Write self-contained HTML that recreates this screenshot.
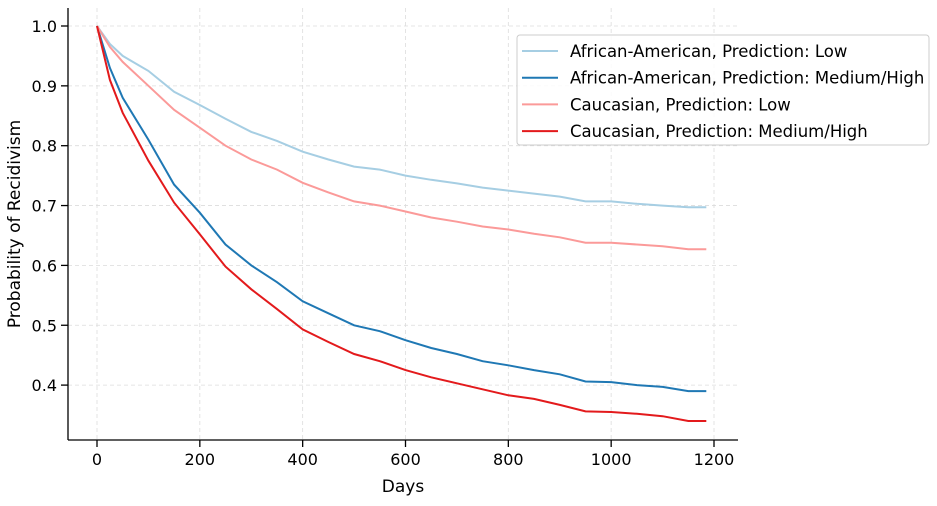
<!DOCTYPE html>
<html><head><meta charset="utf-8"><style>
body{margin:0;background:#fff}
svg text{font-family:"DejaVu Sans","Liberation Sans",sans-serif;fill:#000}
</style></head><body>
<svg id="chart" width="937" height="501" xmlns="http://www.w3.org/2000/svg">
<g id="grid"></g>
<g id="series"></g>
<g id="axes"></g>
<text x="403" y="492" text-anchor="middle" font-size="17">Days</text>
<text transform="translate(20,224) rotate(-90)" text-anchor="middle" font-size="17">Probability of Recidivism</text>
<g id="legend"></g>
</svg>
<script>
const days=[0,25,50,100,150,200,250,300,350,400,450,500,550,600,650,700,750,800,850,900,950,1000,1050,1100,1150,1185];
const aaLow=[1.0,0.97,0.95,0.925,0.89,0.868,0.845,0.823,0.808,0.79,0.777,0.765,0.76,0.75,0.743,0.737,0.73,0.725,0.72,0.715,0.707,0.707,0.703,0.700,0.697,0.697];
const aaHigh=[1.0,0.93,0.88,0.81,0.735,0.688,0.635,0.6,0.572,0.54,0.52,0.5,0.49,0.475,0.462,0.452,0.44,0.433,0.425,0.418,0.406,0.405,0.4,0.397,0.39,0.39];
const caLow=[1.0,0.965,0.94,0.90,0.86,0.83,0.8,0.777,0.76,0.738,0.722,0.707,0.7,0.69,0.68,0.673,0.665,0.66,0.653,0.647,0.638,0.638,0.635,0.632,0.627,0.627];
const caHigh=[1.0,0.91,0.855,0.775,0.705,0.652,0.598,0.56,0.527,0.493,0.472,0.452,0.44,0.425,0.413,0.403,0.393,0.383,0.377,0.367,0.356,0.355,0.352,0.348,0.34,0.34];
const xTicks=[0,200,400,600,800,1000,1200];
const yTicks=[0.4,0.5,0.6,0.7,0.8,0.9,1.0];
const seriesNames=["African-American, Prediction: Low","African-American, Prediction: Medium/High","Caucasian, Prediction: Low","Caucasian, Prediction: Medium/High"];
const seriesData=[aaLow,aaHigh,caLow,caHigh];
const colors=["#a6cee3","#1f78b4","#fb9a99","#e31a1c"];
const NS="http://www.w3.org/2000/svg";
const X=d=>97+d*(617/1200);
const Y=v=>26+(1.0-v)*598.5;
function mk(t,p,a){const e=document.createElementNS(NS,t);for(const k in a)e.setAttribute(k,a[k]);p.appendChild(e);return e;}
const grid=document.getElementById('grid'),axes=document.getElementById('axes'),ser=document.getElementById('series'),leg=document.getElementById('legend');
const L=68,R=738,T=8,B=440;
xTicks.forEach(t=>{
 const g=mk('line',grid,{x1:X(t),x2:X(t),y1:T,y2:B,stroke:'#dcdcdc','stroke-dasharray':'4,3','stroke-width':0.8});
 
 
 const tk=mk('line',axes,{x1:X(t),x2:X(t),y1:B,y2:B+7,stroke:'#000','stroke-width':1.3});
 
 
 const tx=mk('text',axes,{x:X(t),y:B+25,'text-anchor':'middle','font-size':16});
 tx.textContent=t;
 
 
});
yTicks.forEach(t=>{
 const g=mk('line',grid,{x1:L,x2:R,y1:Y(t),y2:Y(t),stroke:'#dcdcdc','stroke-dasharray':'4,3','stroke-width':0.8});
 
 
 const tk=mk('line',axes,{x1:L-7,x2:L,y1:Y(t),y2:Y(t),stroke:'#000','stroke-width':1.3});
 
 
 const tx=mk('text',axes,{x:L-11,y:Y(t)+6,'text-anchor':'end','font-size':16});
 tx.textContent=t.toFixed(1);
 
 
});
const ls=mk('line',axes,{x1:L,x2:L,y1:T,y2:B,stroke:'#000','stroke-width':1.3});


const bs=mk('line',axes,{x1:L,x2:R,y1:B,y2:B,stroke:'#000','stroke-width':1.3});


seriesData.forEach((s,i)=>{
 const pts=days.map((d,j)=>X(d).toFixed(1)+','+Y(s[j]).toFixed(1)).join(' ');
 const pl=mk('polyline',ser,{points:pts,fill:'none',stroke:colors[i],'stroke-width':2});
 
 
});
const box=mk('rect',leg,{x:517,y:35,width:412,height:110,rx:3,fill:'#fff','fill-opacity':0.85,stroke:'#ccc'});


seriesNames.forEach((n,i)=>{
 const y=51+i*26.7;
 const g=mk('g',leg,{});
 
 
 mk('line',g,{x1:522,x2:558,y1:y,y2:y,stroke:colors[i],'stroke-width':2});
 const t=mk('text',g,{x:570,y:y+6,'font-size':16.5});
 t.textContent=n;
});
</script>
</body></html>
